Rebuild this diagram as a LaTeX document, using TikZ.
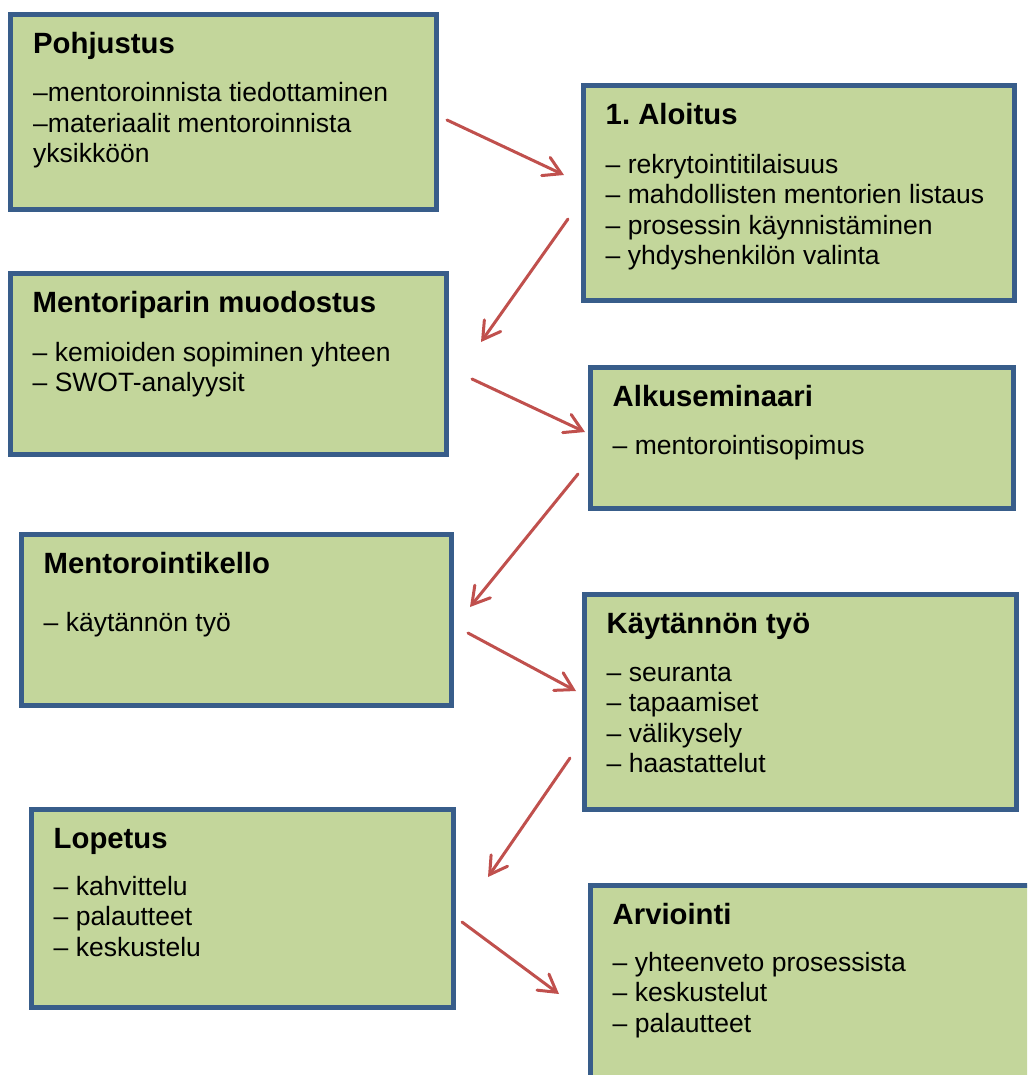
\documentclass[tikz,border=0pt]{standalone}
\usepackage{fontspec}
\setmainfont{Liberation Sans}
\usetikzlibrary{arrows.meta,calc}
\frenchspacing

\definecolor{boxfill}{HTML}{C3D69B}
\definecolor{boxline}{HTML}{385D8A}
\definecolor{arrowred}{HTML}{C0504D}

\tikzset{
  stepbox/.style={draw=boxline, fill=boxfill, line width=5pt, rectangle,
    inner sep=0pt, outer sep=0pt, anchor=north west},
  boxtitle/.style={font=\fontsize{29.3}{34}\selectfont\bfseries, inner sep=0pt, anchor=base west},
  boxitem/.style={font=\fontsize{26.5}{31}\selectfont, inner sep=0pt, anchor=base west},
  flow/.style={draw=arrowred, line width=3pt, line cap=round,
    -{Straight Barb[length=17pt,width=20pt,line cap=round]}},
}

% #1 name, #2 left, #3 top, #4 width, #5 height, #6 title, #7 offset of first item, #8 items
\newcommand{\stagebox}[8]{%
  \node[stepbox, minimum width=#4pt, minimum height=#5pt] (#1) at (#2,#3) {};
  \node[boxtitle] (#1-title) at ($(#1.north west)+(22.5,39)$) {#6};
  \foreach \txt [count=\i] in {#8}
    \node[boxitem] (#1-\i) at ($(#1.north west)+(22.5,{#7+(\i-1)*30.5})$) {\txt};
}

\begin{document}
\begin{tikzpicture}[x=1pt,y=-1pt]
\useasboundingbox (0,0) rectangle (1027,1075);
\clip (0,0) rectangle (1027,1075);

\stagebox{pohjustus}{10.5}{14.5}{426}{195}{Pohjustus}{87.5}
  {–mentoroinnista tiedottaminen,–materiaalit mentoroinnista,yksikköön}
\stagebox{aloitus}{583}{86}{431}{214}{1. Aloitus}{87.3}
  {– rekrytointitilaisuus,– mahdollisten mentorien listaus,– prosessin käynnistäminen,– yhdyshenkilön valinta}
\stagebox{muodostus}{10}{273}{436}{181}{Mentoriparin muodostus}{88}
  {– kemioiden sopiminen yhteen,– SWOT-analyysit}
\stagebox{alkuseminaari}{590}{367}{423}{141}{Alkuseminaari}{87}
  {– mentorointisopimus}
\stagebox{kello}{21}{534}{430}{171}{Mentorointikello}{97}
  {– käytännön työ}
\stagebox{tyo}{584}{594}{432}{215}{Käytännön työ}{87}
  {– seuranta,– tapaamiset,– välikysely,– haastattelut}
\stagebox{lopetus}{31}{809}{422}{198}{Lopetus}{86}
  {– kahvittelu,– palautteet,– keskustelu}
\stagebox{arviointi}{590}{885}{460}{220}{Arviointi}{86}
  {– yhteenveto prosessista,– keskustelut,– palautteet}

% connector end points in the gaps between the stages
\coordinate (a1s) at (447,120);  \coordinate (a1e) at (564,175);
\coordinate (a2s) at (568,219);  \coordinate (a2e) at (481,342);
\coordinate (a3s) at (472,379);  \coordinate (a3e) at (585,432);
\coordinate (a4s) at (578,474);  \coordinate (a4e) at (470,607);
\coordinate (a5s) at (468,633);  \coordinate (a5e) at (576,691);
\coordinate (a6s) at (570,758);  \coordinate (a6e) at (488,877);
\coordinate (a7s) at (462,922);  \coordinate (a7e) at (559,994);

\foreach \k in {1,...,7}
  \draw[flow] (a\k s) -- (a\k e);
\end{tikzpicture}
\end{document}
